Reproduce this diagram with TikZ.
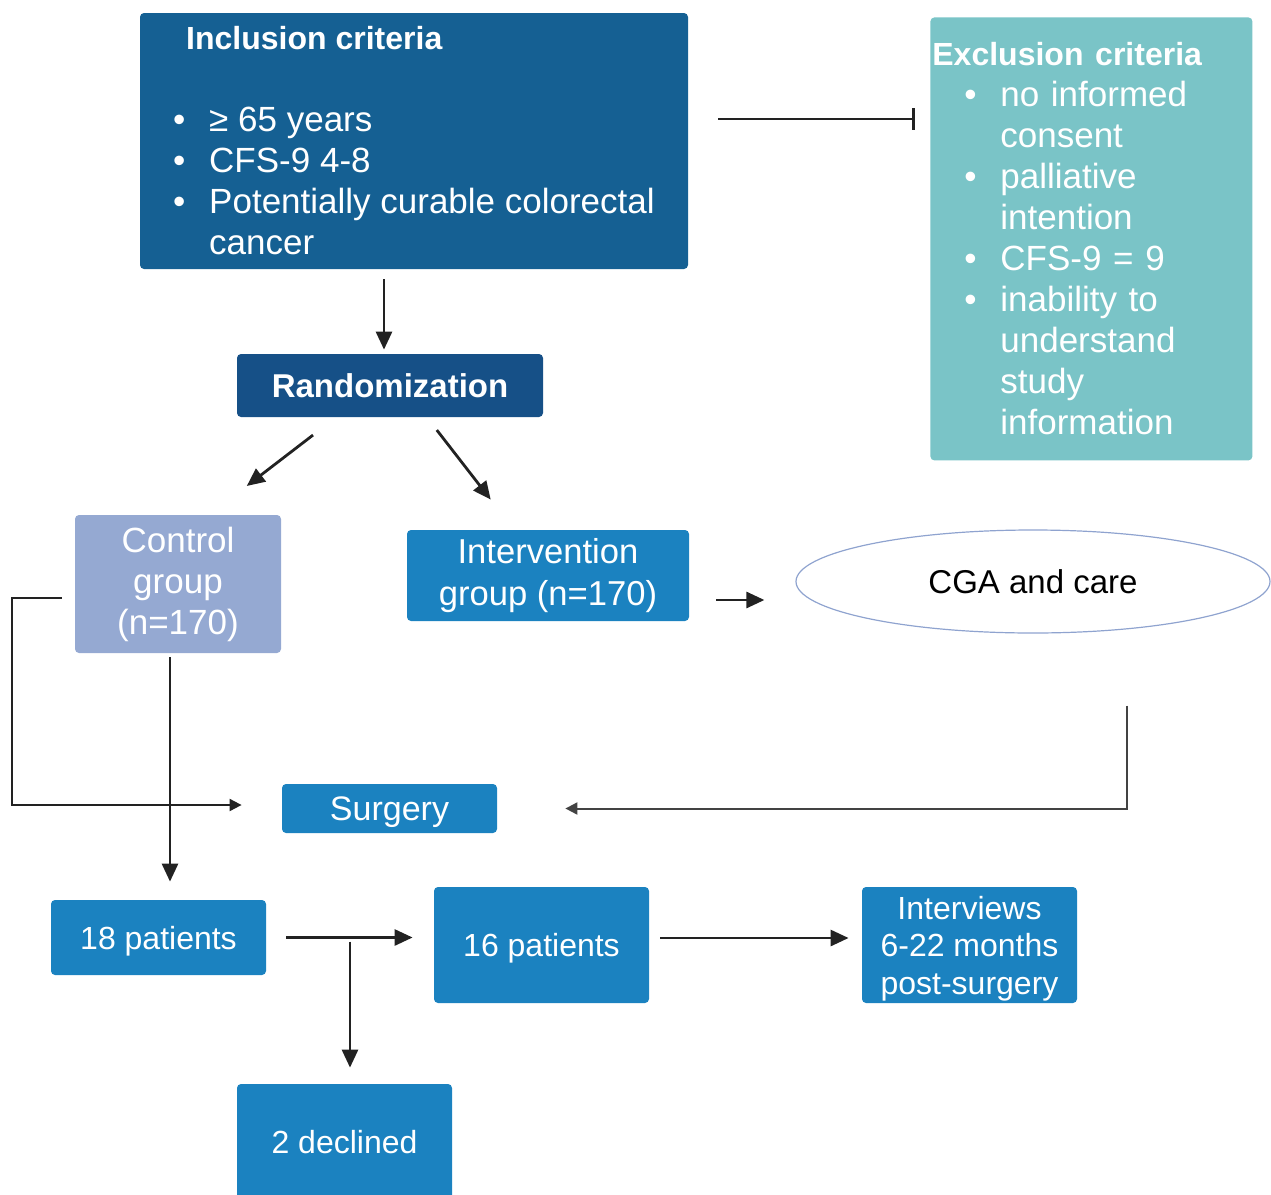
\documentclass[tikz,border=0pt]{standalone}
\usepackage{fontspec}
\setmainfont{Liberation Sans}
\usepackage{tikz}
\usetikzlibrary{arrows.meta, shapes, calc, positioning}
\usepackage{xcolor}

\definecolor{incblue}{RGB}{21,96,147}
\definecolor{randblue}{RGB}{22,80,135}
\definecolor{boxblue}{RGB}{27,130,192}
\definecolor{ctrlblue}{RGB}{149,169,210}
\definecolor{exteal}{RGB}{122,196,199}
\definecolor{ellline}{RGB}{143,163,207}
\definecolor{arrowgrey}{RGB}{34,34,34}

\newcommand{\fsmain}{\fontsize{17.5}{20.5}\selectfont}
\newcommand{\fstitle}{\fontsize{16}{20.5}\selectfont\bfseries}
\newcommand{\fsbox}{\fontsize{16}{18.75}\selectfont}
\newcommand{\bitem}[1]{\makebox[18pt][l]{\textbullet}#1}
\newcommand{\bcont}{\hspace*{18pt}}

\begin{document}
\begin{tikzpicture}[x=0.5pt, y=-0.5pt,
  box/.style={rounded corners=2pt, fill=boxblue, text=white, inner sep=0pt,
    align=center, minimum width=107.5pt},
  arr/.style={draw=arrowgrey, line width=1.4pt, -{Triangle[length=9pt,width=8pt]}},
  thinarr/.style={draw=arrowgrey, line width=1pt, -{Triangle[length=6pt,width=6pt]}}
]
\useasboundingbox (0,0) rectangle (1271,1195);

% criteria
\node[box, fill=incblue, minimum width=274pt, minimum height=128pt, align=left, font=\fsmain]
  (incl) at (414,141) {\hspace*{6.5pt}{\fstitle Inclusion criteria}\\[20.5pt]
  \bitem{≥ 65 years}\\
  \bitem{CFS-9 4-8}\\
  \bitem{Potentially curable colorectal}\\
  \bcont cancer};
\node[box, fill=exteal, anchor=north west, minimum width=161pt, minimum height=221.5pt,
  text width=159pt, inner xsep=1pt, align=left, font=\fsmain]
  (excl) at (930,17) {{\fstitle Exclusion criteria}\\
  \hspace*{16pt}\bitem{no informed}\\
  \hspace*{16pt}\bcont consent\\
  \hspace*{16pt}\bitem{palliative}\\
  \hspace*{16pt}\bcont intention\\
  \hspace*{16pt}\bitem{CFS-9 = 9}\\
  \hspace*{16pt}\bitem{inability to}\\
  \hspace*{16pt}\bcont understand\\
  \hspace*{16pt}\bcont study\\
  \hspace*{16pt}\bcont information};

% groups
\node[box, fill=randblue, minimum width=153pt, minimum height=31.5pt,
  font=\fontsize{16.5}{20}\selectfont\bfseries] (rand) at (390,385.5) {Randomization};
\node[box, fill=ctrlblue, minimum width=103pt, minimum height=69pt, font=\fsmain]
  (ctrl) at (178,584) {Control\\group\\(n=170)};
\node[box, minimum width=141pt, minimum height=45.5pt, font=\fontsize{17.3}{21}\selectfont]
  (intv) at (548,575.5) {Intervention\\group (n=170)};
\node[draw=ellline, line width=0.6pt, ellipse, inner sep=0pt, minimum width=237pt,
  minimum height=51.5pt, font=\fontsize{16.5}{20}\selectfont] (cga) at (1033,581.5) {CGA and care};

% surgery and follow-up
\node[box, minimum height=24.5pt, text depth=0pt, font=\fontsize{17}{20}\selectfont]
  (surg) at (389.5,808.5) {Surgery};
\node[box, minimum height=37.5pt, text depth=0pt, font=\fsbox] (p18) at (158.5,937.5) {18 patients};
\node[box, minimum height=58pt, text depth=0pt, font=\fsbox] (p16) at (541.5,945) {16 patients};
\node[box, minimum height=58pt, text depth=0pt, font=\fsbox]
  (intw) at (969.5,945) {Interviews\\6-22 months\\post-surgery};
\node[box, minimum height=58pt, text depth=0pt, font=\fsbox] (dec) at (344.5,1142) {2 declined};

% connectors
\coordinate (incout) at ([yshift=11pt]incl.east);
\draw[draw=arrowgrey, line width=1.4pt, -{Bar[width=11pt]}, shorten <=15pt, shorten >=7.5pt]
  (incout) -- (incout -| excl.west);
\draw[arr, shorten <=5pt, shorten >=2pt] ([xshift=-15pt]incl.south) -- ([xshift=-3pt]rand.north);
\draw[arr, shorten <=14.5pt, shorten >=23.5pt] ([xshift=-27pt]rand.south) -- ([xshift=15.75pt]ctrl.north);
\draw[arr, shorten <=8pt, shorten >=19pt] ([xshift=18.5pt]rand.south) -- ([xshift=-17pt]intv.north);
\coordinate (intout) at ([yshift=-12.25pt]intv.east);
\draw[arr, shorten <=13.5pt, shorten >=15.5pt] (intout) -- (intout -| cga.west);
\draw[thinarr, draw=arrowgrey!85, shorten <=36pt, shorten >=34pt] ([xshift=47pt]cga.south) |- (surg.east);
\draw[thinarr, shorten <=6.5pt, shorten >=20pt] ([yshift=-7pt]ctrl.west) -- ++(-31.5pt,0)
  |- ([yshift=1.75pt]surg.west);
\draw[arr, shorten <=2pt, shorten >=9pt] ([xshift=-4pt]ctrl.south) -- ([xshift=5.75pt]p18.north);
\draw[arr, shorten <=10pt, shorten >=10.5pt] (p18.east) -- (p18.east -| p16.west)
  coordinate[pos=0.5] (split);
\draw[arr, shorten <=2pt, shorten >=8pt] (split) -- (split |- dec.north);
\draw[arr, shorten <=5.5pt, shorten >=6.5pt] ([yshift=3.5pt]p16.east) -- ([yshift=3.5pt]intw.west);
\end{tikzpicture}
\end{document}
